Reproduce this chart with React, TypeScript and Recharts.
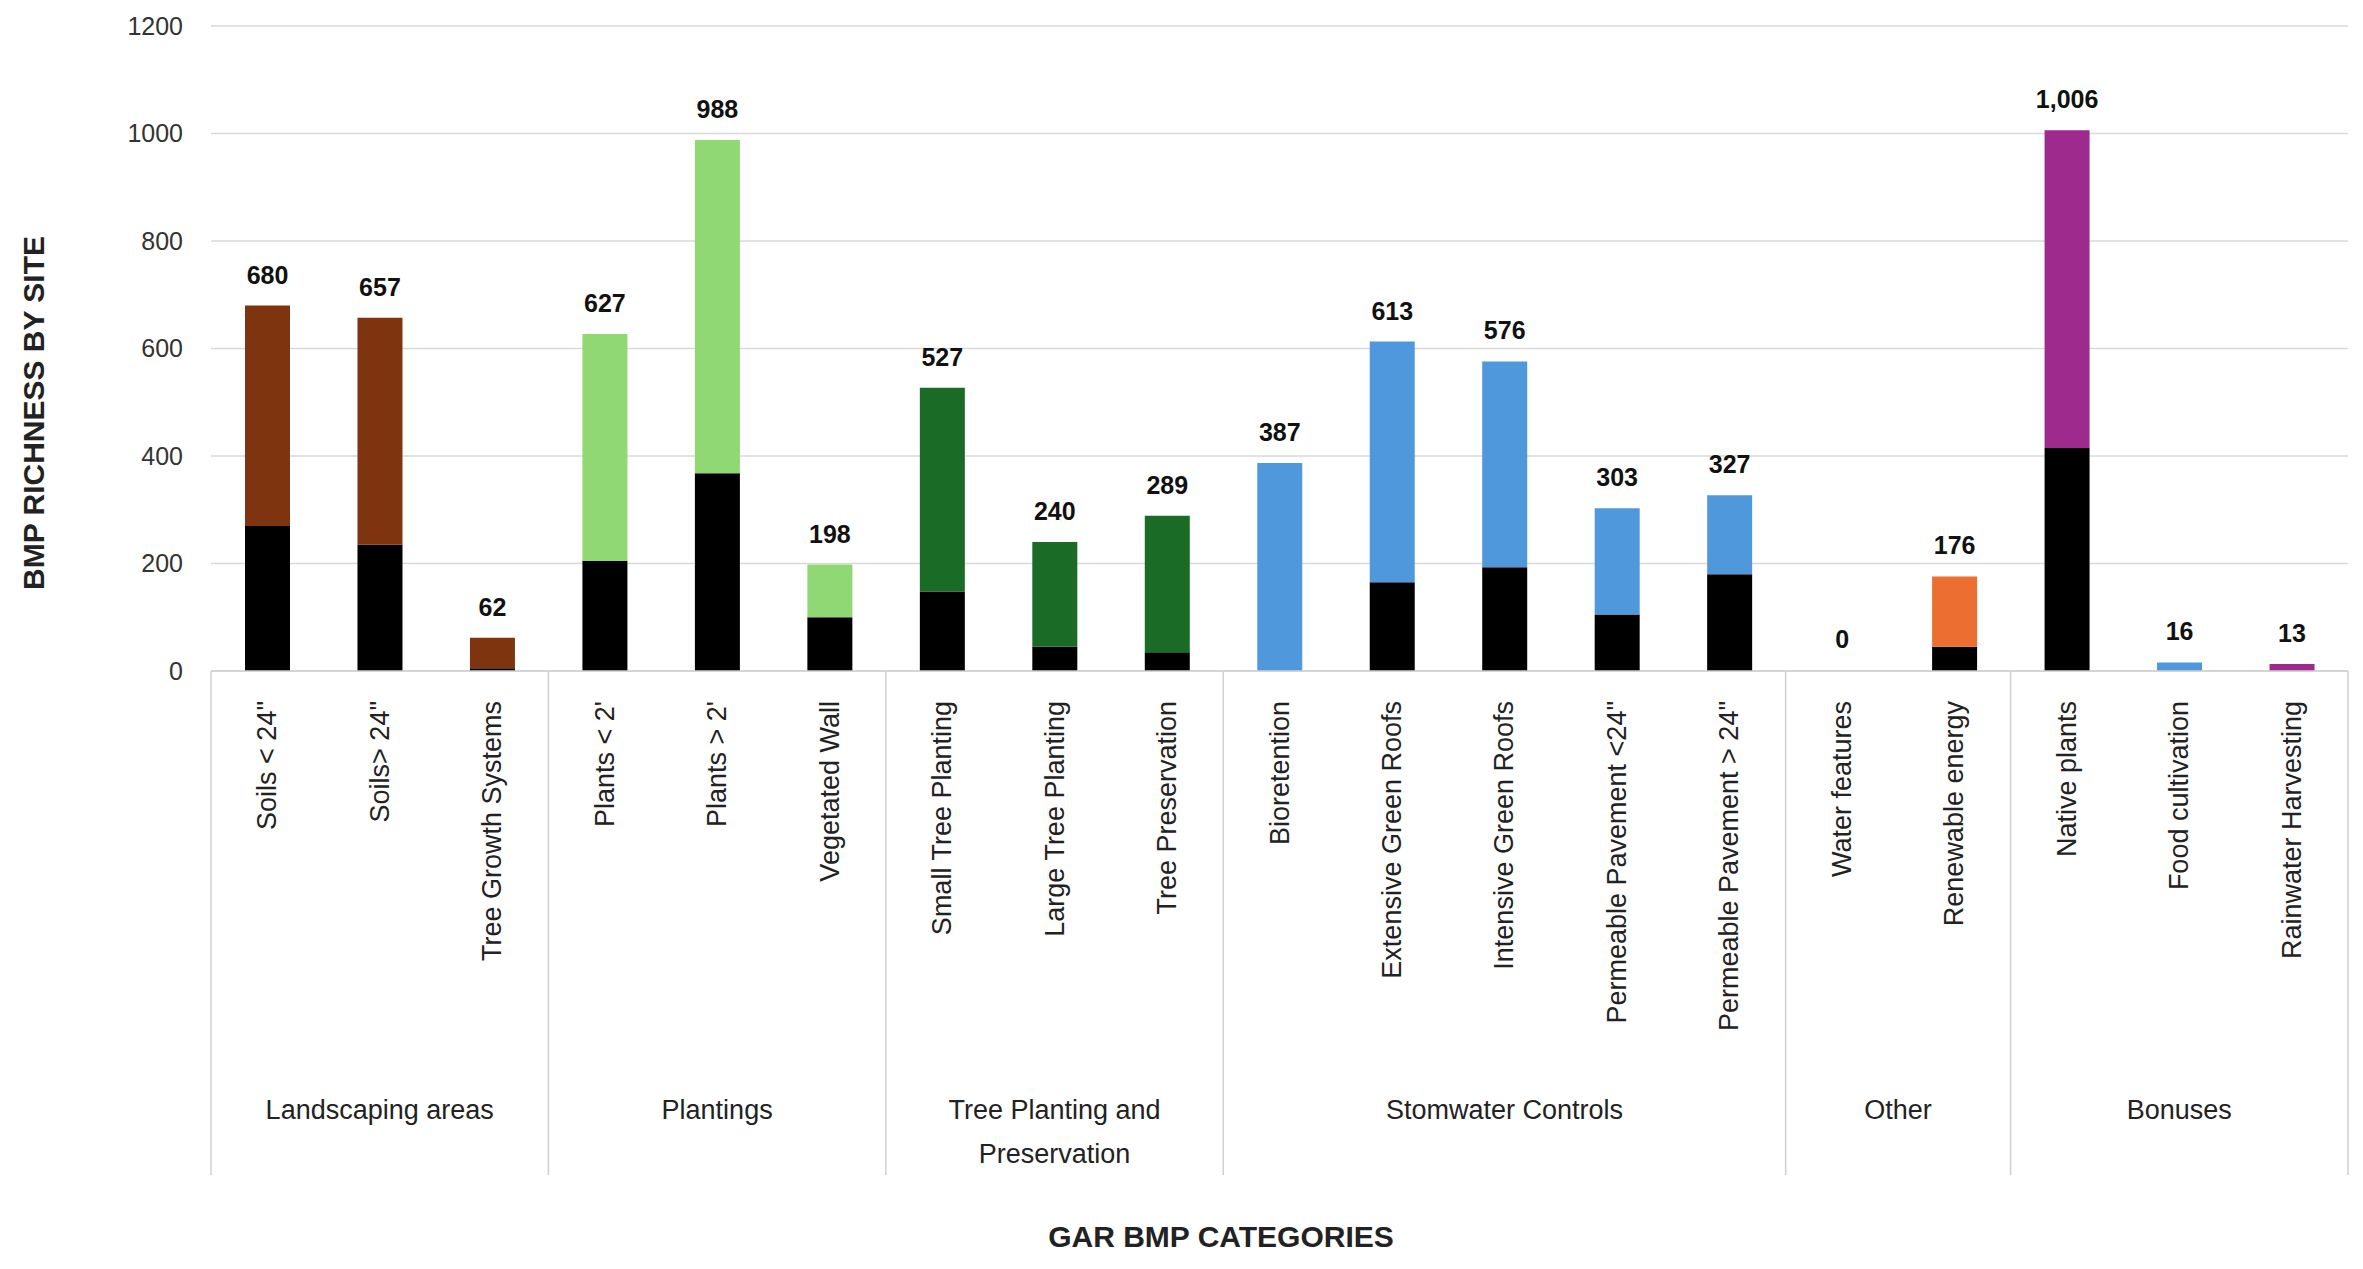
import React from "react";
import { BarChart, Bar, XAxis, YAxis, CartesianGrid, Cell, LabelList } from "recharts";

const categories = [
  "Soils < 24\"", "Soils> 24\"", "Tree Growth Systems",
  "Plants < 2'", "Plants > 2'", "Vegetated Wall",
  "Small Tree Planting", "Large Tree Planting", "Tree Preservation",
  "Bioretention", "Extensive Green Roofs", "Intensive Green Roofs", "Permeable Pavement <24\"", "Permeable Pavement > 24\"",
  "Water features", "Renewable energy",
  "Native plants", "Food cultivation", "Rainwater Harvesting",
];
const totals = [680, 657, 62, 627, 988, 198, 527, 240, 289, 387, 613, 576, 303, 327, 0, 176, 1006, 16, 13];
const baseValues = [270, 235, 5, 205, 368, 100, 148, 45, 35, 0, 165, 193, 105, 180, 0, 45, 415, 0, 0];
const colors = [
  "#7f3410", "#7f3410", "#7f3410",
  "#8fd874", "#8fd874", "#8fd874",
  "#1a6b25", "#1a6b25", "#1a6b25",
  "#4f98dc", "#4f98dc", "#4f98dc", "#4f98dc", "#4f98dc",
  "#4f98dc", "#ec6f31",
  "#9e2a8e", "#4f98dc", "#9e2a8e",
];
const groups = [
  { name: ["Landscaping areas"], start: 0, count: 3 },
  { name: ["Plantings"], start: 3, count: 3 },
  { name: ["Tree Planting and", "Preservation"], start: 6, count: 3 },
  { name: ["Stomwater Controls"], start: 9, count: 5 },
  { name: ["Other"], start: 14, count: 2 },
  { name: ["Bonuses"], start: 16, count: 3 },
];

const data = categories.map((c, i) => ({
  name: c,
  base: baseValues[i],
  top: totals[i] - baseValues[i],
  total: totals[i],
}));

const W = 2347;
const H = 1253;
const LEFT = 203;
const RIGHT = 7;
const BAND = (W - LEFT - RIGHT) / categories.length;
const AXIS_H = 504;
const FONT = "Arial, 'Liberation Sans', sans-serif";

function CategoryTick(props: any) {
  const { x, y, payload, index } = props;
  const g = groups.find((gr) => index >= gr.start && index < gr.start + gr.count);
  const items: React.ReactNode[] = [];
  items.push(
    <text key="t" x={x + 9} y={y + 22} transform={`rotate(-90 ${x + 9} ${y + 22})`} textAnchor="end"
      fontSize={27} fill="#222" fontFamily={FONT}>{payload.value}</text>
  );
  if (g && g.start === index) {
    const left = x - BAND / 2;
    const cx = left + (g.count * BAND) / 2;
    items.push(<line key="l" x1={left} x2={left} y1={y - 8} y2={y - 8 + AXIS_H} stroke="#d0d0d0" strokeWidth={1.5} />);
    g.name.forEach((n, k) =>
      items.push(<text key={"g" + k} x={cx} y={y + 440 + k * 44} textAnchor="middle" fontSize={27} fill="#222" fontFamily={FONT}>{n}</text>)
    );
    if (g.start + g.count === categories.length) {
      const right = left + g.count * BAND;
      items.push(<line key="r" x1={right} x2={right} y1={y - 8} y2={y - 8 + AXIS_H} stroke="#d0d0d0" strokeWidth={1.5} />);
    }
  }
  return <g>{items}</g>;
}

const YTitle = () => (
  <text x={36} y={405} transform="rotate(-90 36 405)" textAnchor="middle" fontSize={30} fontWeight={700} fill="#222" fontFamily={FONT}>
    BMP RICHNESS BY SITE
  </text>
);

export default function App() {
  return (
    <div style={{ position: "relative", width: W, height: H, background: "#fff" }}>
      <BarChart width={W} height={H} data={data} margin={{ top: 18, right: RIGHT, left: 0, bottom: 86 }} barSize={45}>
        <CartesianGrid vertical={false} stroke="#d9d9d9" strokeWidth={1.5} />
        <XAxis dataKey="name" interval={0} height={AXIS_H} tick={<CategoryTick />} tickLine={false} axisLine={{ stroke: "#d0d0d0", strokeWidth: 1.5 }} />
        <YAxis width={LEFT} domain={[0, 1200]} ticks={[0, 200, 400, 600, 800, 1000, 1200]} axisLine={false} tickLine={false}
          tick={{ fontSize: 25, fill: "#333", fontFamily: FONT }} tickMargin={22}
          label={<YTitle />} />
        <Bar dataKey="base" stackId="a" fill="#000" isAnimationActive={false} />
        <Bar dataKey="top" stackId="a" isAnimationActive={false} minPointSize={1}>
          {data.map((d, i) => <Cell key={i} fill={d.top === 0 ? "transparent" : colors[i]} />)}
          <LabelList dataKey="total" position="top" offset={22}
            formatter={(v: any) => Number(v).toLocaleString("en-US")}
            style={{ fontSize: 25, fontWeight: 700, fill: "#111", fontFamily: FONT }} />
        </Bar>
      </BarChart>
      <div style={{ position: "absolute", left: 0, width: 2426, top: 1212, textAlign: "center", fontSize: 30, fontWeight: 700, fontFamily: FONT, color: "#222" }}>
        GAR BMP CATEGORIES
      </div>
    </div>
  );
}
